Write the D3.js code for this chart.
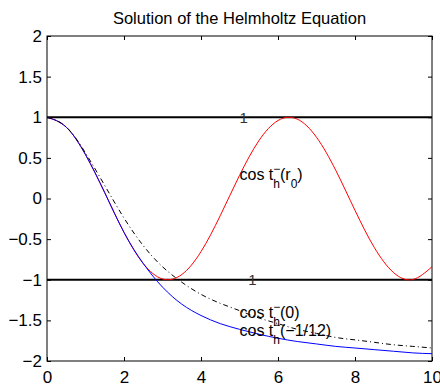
<!DOCTYPE html>
<html>
<head>
<meta charset="utf-8">
<script src="https://cdn.jsdelivr.net/npm/d3@7"></script>
<style>
    body { margin: 0; background: #fff; }
    text { font-family: "Liberation Sans", Arial, sans-serif; }
</style>
</head>
<body>
<div id="chart"></div>
<script>
// sample positions along r
let x_values = [0, 0.5, 1, 1.5, 2, 2.5, 3, 3.5, 4, 4.5, 5, 5.5, 6, 6.5, 7, 7.5, 8, 8.5, 9, 9.5, 10];

// red: cos t_h(r_0)
let red_values = [1, 0.878, 0.540, 0.071, -0.416, -0.801, -0.990, -0.936, -0.654, -0.211, 0.284,
    0.709, 0.960, 0.977, 0.754, 0.347, -0.146, -0.602, -0.911, -0.997, -0.839];
// blue: cos t_h(-1/12)
let blue_values = [1, 0.878, 0.540, 0.071, -0.418, -0.80, -1.09, -1.30, -1.44, -1.54, -1.61,
    -1.67, -1.72, -1.76, -1.79, -1.82, -1.84, -1.86, -1.88, -1.90, -1.91];
// dash-dot: cos t_h(0)
let dash_values = [1, 0.88, 0.56, 0.16, -0.24, -0.58, -0.84, -1.03, -1.18, -1.29, -1.38,
    -1.47, -1.54, -1.61, -1.66, -1.71, -1.74, -1.77, -1.80, -1.82, -1.84];

let level_values = [1, -1];
let x_ticks = [0, 2, 4, 6, 8, 10];
let y_ticks = [-2, -1.5, -1, -0.5, 0, 0.5, 1, 1.5, 2];

let width_chart = 440;
let height_chart = 385;
let margin_chart = {top: 36, bottom: 24, left: 47, right: 8};

let svg_chart = d3.select("#chart")
    .append("svg")
    .attr("width", width_chart)
    .attr("height", height_chart);

let xScale_chart = d3.scaleLinear().domain([0, 10])
    .range([margin_chart.left, width_chart - margin_chart.right]);
let yScale_chart = d3.scaleLinear().domain([-2, 2])
    .range([height_chart - margin_chart.bottom, margin_chart.top]);

let plot_w = xScale_chart.range()[1] - xScale_chart.range()[0];
let plot_h = yScale_chart.range()[0] - yScale_chart.range()[1];

let num_format = d3.format("");

// axes with inward ticks on all four sides
let tick_len = 4;
svg_chart.append("g")
    .attr("transform", "translate(0," + yScale_chart(-2) + ")")
    .call(d3.axisBottom(xScale_chart).tickValues(x_ticks).tickFormat(num_format)
        .tickSizeInner(-tick_len).tickSizeOuter(0).tickPadding(10))
    .call(g => g.selectAll("text").attr("font-size", 17).attr("dy", "0.71em"));
svg_chart.append("g")
    .attr("transform", "translate(0," + yScale_chart(2) + ")")
    .call(d3.axisTop(xScale_chart).tickValues(x_ticks).tickSizeInner(-tick_len).tickSizeOuter(0).tickFormat(""));
svg_chart.append("g")
    .attr("transform", "translate(" + xScale_chart(0) + ",0)")
    .call(d3.axisLeft(yScale_chart).tickValues(y_ticks).tickFormat(num_format)
        .tickSizeInner(-tick_len).tickSizeOuter(0).tickPadding(5))
    .call(g => g.selectAll("text").attr("font-size", 17));
svg_chart.append("g")
    .attr("transform", "translate(" + xScale_chart(10) + ",0)")
    .call(d3.axisRight(yScale_chart).tickValues(y_ticks).tickSizeInner(-tick_len).tickSizeOuter(0).tickFormat(""));

svg_chart.selectAll(".domain").remove();
svg_chart.selectAll(".tick line").attr("stroke", "#000");
svg_chart.selectAll(".tick text").attr("fill", "#000").attr("font-family", "Liberation Sans, Arial, sans-serif");

svg_chart.append("rect")
    .attr("x", xScale_chart(0))
    .attr("y", yScale_chart(2))
    .attr("width", plot_w)
    .attr("height", plot_h)
    .attr("fill", "none")
    .attr("stroke", "#000")
    .attr("stroke-width", 1);

// level lines at +1 / -1
svg_chart.selectAll(".level")
    .data(level_values)
    .join("line")
    .attr("class", "level")
    .attr("x1", xScale_chart(0))
    .attr("x2", xScale_chart(10))
    .attr("y1", d => yScale_chart(d))
    .attr("y2", d => yScale_chart(d))
    .attr("stroke", "#000")
    .attr("stroke-width", 2);

let line_gen = d3.line()
    .x((d, i) => xScale_chart(x_values[i]))
    .y(d => yScale_chart(d))
    .curve(d3.curveNatural);

let series_list = [
    {values: red_values, color: "#ff0000", dash: null},
    {values: blue_values, color: "#0000ff", dash: null},
    {values: dash_values, color: "#000", dash: "5,3,1,3"}
];

series_list.forEach((s) => {
    svg_chart.append("path")
        .attr("d", line_gen(s.values))
        .attr("fill", "none")
        .attr("stroke", s.color)
        .attr("stroke-width", 1)
        .attr("stroke-dasharray", s.dash);
});

// level labels
svg_chart.selectAll(".level_label")
    .data(level_values)
    .join("text")
    .attr("class", "level_label")
    .attr("x", xScale_chart(5))
    .attr("y", d => yScale_chart(d))
    .attr("dy", "0.36em")
    .attr("font-size", 15)
    .attr("fill", "#333")
    .text(d => num_format(d));

// curve labels: cos t_h^-(arg)
let label_list = [
    {y: 0.23, arg: "r", sub: "0"},
    {y: -1.47, arg: "0", sub: null},
    {y: -1.69, arg: "\u22121/12", sub: null}
];

label_list.forEach((l) => {
    let t = svg_chart.append("text")
        .attr("x", xScale_chart(5))
        .attr("y", yScale_chart(l.y))
        .attr("font-size", 16)
        .attr("fill", "#000");
    t.append("tspan").text("cos t");
    t.append("tspan").attr("font-size", 12).attr("dy", -7).text("\u2212");
    t.append("tspan").attr("font-size", 12).attr("dx", -7).attr("dy", 15).text("h");
    t.append("tspan").attr("dy", -8).text("(" + l.arg);
    if (l.sub) {
        t.append("tspan").attr("font-size", 12).attr("dy", 8).text(l.sub);
        t.append("tspan").attr("dy", -8).text(")");
    } else {
        t.append("tspan").text(")");
    }
});

svg_chart.append("text")
    .attr("x", (xScale_chart(0) + xScale_chart(10)) / 2)
    .attr("y", 24)
    .attr("text-anchor", "middle")
    .attr("font-size", 16.5)
    .text("Solution of the Helmholtz Equation");
</script>
</body>
</html>
